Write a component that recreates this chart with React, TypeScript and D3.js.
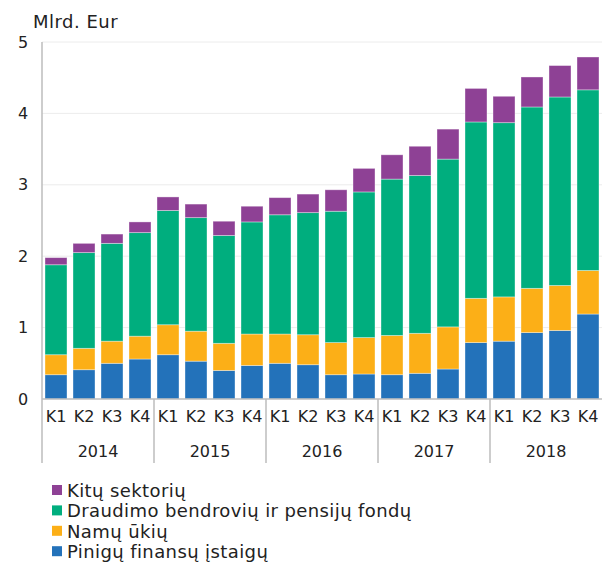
import { useRef, useEffect } from "react";
import { select, scaleLinear, scaleBand, stack } from "d3";

// data
const years = ["2014", "2015", "2016", "2017", "2018"];
const quarters = ["K1", "K2", "K3", "K4"];
const categories = years.flatMap((y) => quarters.map((q) => y + " " + q));

const pinigu = [0.34, 0.41, 0.5, 0.56, 0.62, 0.53, 0.4, 0.47, 0.5, 0.48, 0.34, 0.35, 0.34, 0.36, 0.42, 0.79, 0.81, 0.93, 0.96, 1.19];
const namu = [0.28, 0.3, 0.31, 0.32, 0.42, 0.42, 0.38, 0.44, 0.41, 0.42, 0.45, 0.51, 0.55, 0.56, 0.59, 0.62, 0.62, 0.62, 0.63, 0.61];
const draudimo = [1.26, 1.34, 1.37, 1.45, 1.6, 1.59, 1.51, 1.57, 1.67, 1.71, 1.84, 2.04, 2.19, 2.21, 2.35, 2.47, 2.44, 2.54, 2.64, 2.53];
const kitu = [0.1, 0.13, 0.13, 0.15, 0.19, 0.19, 0.2, 0.22, 0.24, 0.26, 0.3, 0.33, 0.34, 0.41, 0.42, 0.47, 0.37, 0.42, 0.44, 0.46];

const seriesNames = ["Pinigų finansų įstaigų", "Namų ūkių", "Draudimo bendrovių ir pensijų fondų", "Kitų sektorių"];
const seriesColors = ["#2372ba", "#fcaf17", "#00ae7e", "#8e4195"];
const yTicks = [0, 1, 2, 3, 4, 5];

const W = 603;
const H = 565;
const left = 42;
const right = 602;
const top = 42;
const bottom = 399;
const font = "'DejaVu Sans', Verdana, sans-serif";

const App = () => {
  const svgRef = useRef<SVGSVGElement>(null);

  useEffect(() => {
    const svg = select(svgRef.current);
    svg.selectAll("*").remove();

    const rows = categories.map((c, i) => ({
      cat: c,
      s0: pinigu[i],
      s1: namu[i],
      s2: draudimo[i],
      s3: kitu[i],
    }));
    const stacked = stack<any>().keys(["s0", "s1", "s2", "s3"])(rows);

    const x = scaleBand().domain(categories).range([left, right]).paddingInner(6 / 28).paddingOuter(3 / 28);
    const step = x.step();
    const y = scaleLinear().domain([0, 5]).range([bottom, top]);

    // gridlines
    svg
      .append("g")
      .selectAll("line")
      .data(yTicks.slice(1))
      .join("line")
      .attr("x1", left)
      .attr("x2", right)
      .attr("y1", (d) => y(d))
      .attr("y2", (d) => y(d))
      .attr("stroke", "#ececec");

    // y labels
    svg
      .append("g")
      .selectAll("text")
      .data(yTicks)
      .join("text")
      .attr("x", 23)
      .attr("y", (d) => y(d))
      .attr("dy", "0.35em")
      .attr("text-anchor", "middle")
      .attr("font-family", font)
      .attr("font-size", 16)
      .attr("fill", "#222")
      .text((d) => d);

    svg
      .append("text")
      .attr("x", 33)
      .attr("y", 28)
      .attr("font-family", font)
      .attr("font-size", 18)
      .attr("letter-spacing", 0.5)
      .attr("fill", "#222")
      .text("Mlrd. Eur");

    // bars
    svg
      .append("g")
      .selectAll("g")
      .data(stacked)
      .join("g")
      .attr("fill", (_, i) => seriesColors[i])
      .selectAll("rect")
      .data((d) => d)
      .join("rect")
      .attr("x", (d) => x(d.data.cat)!)
      .attr("width", x.bandwidth())
      .attr("y", (d) => y(d[1]))
      .attr("height", (d) => y(d[0]) - y(d[1]))
      .attr("stroke", "#ffffff")
      .attr("stroke-opacity", 0.45)
      .attr("stroke-width", 0.8);

    // axes
    svg
      .append("line")
      .attr("x1", left)
      .attr("x2", left)
      .attr("y1", top)
      .attr("y2", 463)
      .attr("stroke", "#bdbdbd")
      .attr("stroke-width", 1.5);
    svg
      .append("line")
      .attr("x1", left)
      .attr("x2", right)
      .attr("y1", bottom)
      .attr("y2", bottom)
      .attr("stroke", "#bdbdbd")
      .attr("stroke-width", 1.5);

    // year separators
    svg
      .append("g")
      .selectAll("line")
      .data(years.slice(1))
      .join("line")
      .attr("x1", (d) => x(d + " K1")! - (step - x.bandwidth()) / 2)
      .attr("x2", (d) => x(d + " K1")! - (step - x.bandwidth()) / 2)
      .attr("y1", bottom)
      .attr("y2", 463)
      .attr("stroke", "#bdbdbd")
      .attr("stroke-width", 1.5);

    // quarter labels
    svg
      .append("g")
      .selectAll("text")
      .data(categories)
      .join("text")
      .attr("x", (d) => x(d)! + x.bandwidth() / 2)
      .attr("y", 416)
      .attr("dy", "0.35em")
      .attr("text-anchor", "middle")
      .attr("font-family", font)
      .attr("font-size", 16)
      .attr("fill", "#222")
      .text((d) => d.split(" ")[1]);

    // year labels
    svg
      .append("g")
      .selectAll("text")
      .data(years)
      .join("text")
      .attr("x", (d) => (x(d + " K1")! + x(d + " K4")! + x.bandwidth()) / 2)
      .attr("y", 451)
      .attr("dy", "0.35em")
      .attr("text-anchor", "middle")
      .attr("font-family", font)
      .attr("font-size", 16)
      .attr("fill", "#222")
      .text((d) => d);

    // legend (reverse order)
    const legendOrder = [3, 2, 1, 0];
    const lg = svg
      .append("g")
      .selectAll("g")
      .data(legendOrder)
      .join("g")
      .attr("transform", (_, i) => "translate(52," + (497 + i * 20.4) + ")");
    lg.append("rect")
      .attr("x", 0)
      .attr("y", -12)
      .attr("width", 10)
      .attr("height", 10)
      .attr("fill", (d) => seriesColors[d]);
    lg.append("text")
      .attr("x", 15)
      .attr("y", 0)
      .attr("font-family", font)
      .attr("font-size", 18)
      .attr("letter-spacing", 0.4)
      .attr("fill", "#222")
      .text((d) => seriesNames[d]);
  }, []);

  return (
    <svg
      ref={svgRef}
      width={W}
      height={H}
      viewBox={"0 0 " + W + " " + H}
      style={{ position: "absolute", left: 0, top: 0, background: "#fff" }}
    ></svg>
  );
};

export default App;
